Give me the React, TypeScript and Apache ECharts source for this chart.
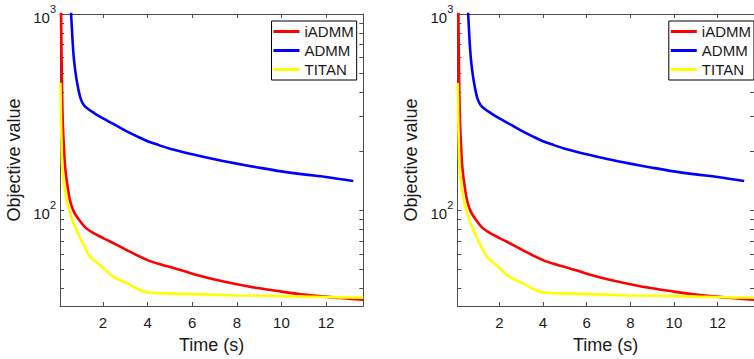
import React, { useEffect, useRef } from 'react';
import * as echarts from 'echarts';

// ---- data ----
const seriesNames = ['iADMM', 'ADMM', 'TITAN'];
const seriesColors = ['#ff0000', '#0000ff', '#ffff00'];

const iadmmTime = [0.1, 0.12, 0.15, 0.19, 0.25, 0.31, 0.42, 0.54, 0.7, 0.91, 1.2, 1.5, 1.8, 2.2, 2.7, 3.22, 3.97, 4.6, 5.2, 5.7, 6.2, 7.0, 8.0, 9.0, 10.0, 11.0, 11.9, 12.8, 13.67];
const iadmmObj = [2000, 1000, 500, 290, 205, 162, 130, 110, 98, 90, 82, 77.5, 74.3, 70.5, 66, 61.5, 56, 53, 50.8, 48.8, 46.9, 44.5, 42.1, 40.1, 38.6, 37.3, 36.4, 35.7, 35.1];

const admmTime = [0.56, 0.57, 0.6, 0.64, 0.7, 0.79, 0.9, 1.0, 1.13, 1.3, 1.6, 2.0, 2.5, 3.0, 3.5, 4.0, 4.5, 5.0, 6.0, 7.0, 8.0, 9.0, 10.0, 11.0, 12.0, 13.22];
const admmObj = [1200, 1000, 860, 710, 580, 481, 410, 370, 345, 330, 313, 294, 274, 255, 239, 225, 215, 206, 193, 182, 173, 165, 158, 152.5, 148, 141];

const titanTime = [0.09, 0.1, 0.11, 0.14, 0.17, 0.25, 0.39, 0.61, 0.91, 1.15, 1.43, 1.88, 2.33, 2.6, 2.85, 3.1, 3.45, 3.97, 4.5, 5.7, 8.0, 10.0, 11.9, 13.67];
const titanObj = [446, 380, 300, 220, 165, 135, 110, 90, 75, 66, 58, 52.5, 47, 45, 43.6, 42.5, 40.3, 38.3, 37.9, 37.6, 36.9, 36.6, 36.2, 35.9];

const xTicks = [2, 4, 6, 8, 10, 12];
const yTicks = [40, 50, 60, 70, 80, 90, 100, 200, 300, 400, 500, 600, 700, 800, 900, 1000];
const yLabelTicks = [100, 1000];

const xMin = 0.07;
const xMax = 13.67;
const yMin = 32.6;
const yMax = 1000;

const zip = (xs: number[], ys: number[]) => xs.map((x, i) => [x, ys[i]]);
const seriesData = [zip(iadmmTime, iadmmObj), zip(admmTime, admmObj), zip(titanTime, titanObj)];

const FONT = "'Liberation Sans', Arial, Helvetica, sans-serif";
const AXIS_COLOR = '#4d4d4d';
const TEXT_COLOR = '#1a1a1a';

export default function App() {
  const ref = useRef<HTMLDivElement>(null);

  useEffect(() => {
    document.body.style.margin = '0';
    if (!ref.current) return;
    const chart = echarts.init(ref.current, undefined, { renderer: 'svg' });

    const grids = [
      { left: 60, top: 14, width: 303.3, height: 293.3 },
      { left: 457.3, top: 14, width: 303.3, height: 293.3 },
    ];

    const xAxes: any[] = [];
    const yAxes: any[] = [];
    const series: any[] = [];
    const legends: any[] = [];
    const legendLefts = [271.5, 668.8];

    grids.forEach((_, gi) => {
      const lineStyle = { color: AXIS_COLOR, width: 1 };
      xAxes.push({
        type: 'value', gridIndex: gi, position: 'bottom', min: xMin, max: xMax,
        axisLine: { show: true, onZero: false, lineStyle },
        axisTick: { show: true, inside: true, length: 4, lineStyle, customValues: xTicks },
        axisLabel: { show: true, customValues: xTicks, margin: 9, fontSize: 15, fontFamily: FONT, color: TEXT_COLOR },
        splitLine: { show: false },
        name: 'Time (s)', nameLocation: 'middle', nameGap: 30,
        nameTextStyle: { fontSize: 18, fontFamily: FONT, color: TEXT_COLOR },
      });
      xAxes.push({
        type: 'value', gridIndex: gi, position: 'top', min: xMin, max: xMax,
        axisLine: { show: true, onZero: false, lineStyle },
        axisTick: { show: true, inside: true, length: 4, lineStyle, customValues: xTicks },
        axisLabel: { show: false },
        splitLine: { show: false },
      });
      yAxes.push({
        type: 'log', logBase: 10, gridIndex: gi, position: 'left', min: yMin, max: yMax,
        axisLine: { show: true, onZero: false, lineStyle },
        axisTick: { show: true, inside: true, length: 4, lineStyle, customValues: yTicks },
        axisLabel: {
          show: true, customValues: yLabelTicks, margin: 4, fontFamily: FONT, color: TEXT_COLOR,
          formatter: (v: number) => '{b|10}{s|' + Math.round(Math.log10(v)) + '}',
          rich: {
            b: { fontSize: 15, fontFamily: FONT, color: TEXT_COLOR, lineHeight: 22, verticalAlign: 'bottom' },
            s: { fontSize: 11, fontFamily: FONT, color: TEXT_COLOR, lineHeight: 22, verticalAlign: 'top' },
          },
        },
        splitLine: { show: false },
        name: 'Objective value', nameLocation: 'middle', nameGap: 37,
        nameTextStyle: { fontSize: 18, fontFamily: FONT, color: TEXT_COLOR },
      });
      yAxes.push({
        type: 'log', logBase: 10, gridIndex: gi, position: 'right', min: yMin, max: yMax,
        axisLine: { show: true, onZero: false, lineStyle },
        axisTick: { show: true, inside: true, length: 4, lineStyle, customValues: yTicks },
        axisLabel: { show: false },
        splitLine: { show: false },
      });

      seriesNames.forEach((name, si) => {
        series.push({
          type: 'line', name, xAxisIndex: gi * 2, yAxisIndex: gi * 2,
          data: seriesData[si], showSymbol: false, symbol: 'none', smooth: 0.35,
          lineStyle: { color: seriesColors[si], width: 2.6 },
          itemStyle: { color: seriesColors[si] },
          clip: true, z: si === 2 ? 3 : 2,
        });
      });

      legends.push({
        left: legendLefts[gi], top: 21, orient: 'vertical',
        data: seriesNames.map((n) => ({ name: n, icon: 'rect' })),
        itemWidth: 26, itemHeight: 3, itemGap: 4,
        textStyle: { fontSize: 15, fontFamily: FONT, color: TEXT_COLOR, lineHeight: 15 },
        borderColor: '#000', borderWidth: 1, backgroundColor: '#fff',
        padding: [3, 3, 3, 2], borderRadius: 0,
        selectedMode: false,
      });
    });

    chart.setOption({
      animation: false,
      backgroundColor: '#fff',
      grid: grids,
      xAxis: xAxes,
      yAxis: yAxes,
      series,
      legend: legends,
    });

    return () => chart.dispose();
  }, []);

  return <div ref={ref} style={{ position: 'fixed', left: 0, top: 0, width: 754, height: 359, overflow: 'hidden' }} />;
}
